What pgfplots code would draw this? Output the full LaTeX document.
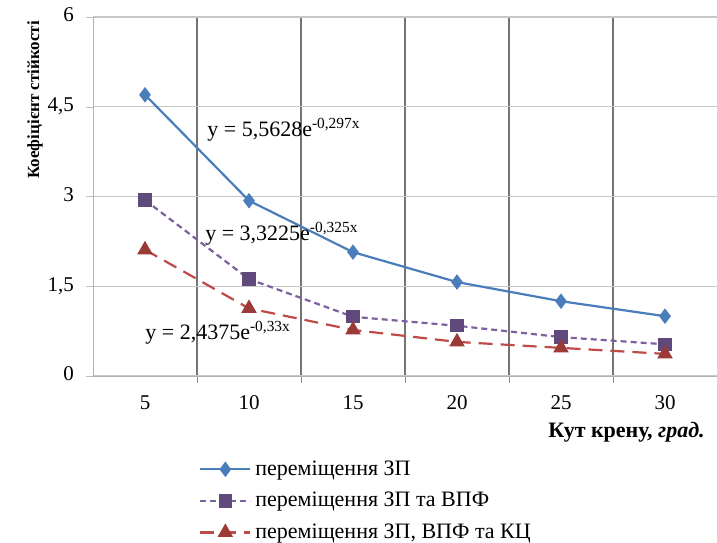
\documentclass[border=0pt]{standalone}
\usepackage{pgfplots}
\pgfplotsset{compat=1.18}
\usepackage{fontspec}
\setmainfont{Liberation Serif}
\definecolor{s1}{HTML}{4A7EBB}
\definecolor{s2}{HTML}{7D60A0}
\definecolor{s2m}{HTML}{604A7B}
\definecolor{s3}{HTML}{BE4B48}
\definecolor{s3m}{HTML}{9C3A37}
\begin{document}
\begin{tikzpicture}
\useasboundingbox (-46.5pt,-83pt) rectangle (312pt,188pt);
\begin{axis}[
  scale only axis, width=312pt, height=179.5pt,
  xmin=2.5, xmax=32.5, ymin=0, ymax=6,
  clip=false,
  axis lines=left,
  axis line style={draw=black!30, -},
  tick align=outside,
  major tick length=3.5pt,
  tick style={draw=black!45},
  xtick={7.5,12.5,17.5,22.5,27.5}, xticklabels={},
  extra x ticks={5,10,15,20,25,30},
  extra x tick labels={5,10,15,20,25,30},
  extra x tick style={grid=none, major tick length=0pt,
    xticklabel style={yshift=-5pt}},
  typeset ticklabels with strut,
  ytick={0,1.5,3,4.5,6},
  ytick style={draw=black!25},
  xmajorgrids, ymajorgrids,
  x grid style={draw=black!55, line width=0.6pt},
  y grid style={draw=black!22, line width=0.6pt},
  tick label style={font=\fontsize{10.5}{12}\selectfont},
  /pgf/number format/assume math mode=true,
  yticklabel style={xshift=-2.5pt, /pgf/number format/.cd, use comma, fixed, precision=1},
  legend style={at={(0.16,-0.212)}, anchor=north west, draw=none, fill=none,
    font=\fontsize{11}{12}\selectfont, row sep=3pt},
  legend cell align=left,
  legend image code/.code={\draw[mark repeat=2, mark phase=2]
    plot coordinates {(0pt,0pt) (12.5pt,0pt) (25pt,0pt)};},
]
\addplot[color=s1, line width=1.1pt, mark=diamond*, mark size=3pt,
  mark options={solid, fill=s1, draw=s1}]
  coordinates {(5,4.70) (10,2.93) (15,2.07) (20,1.57) (25,1.25) (30,1.00)};
\addlegendentry{переміщення ЗП}
\addplot[color=s2, line width=1.1pt, dash pattern=on 3pt off 2pt, mark=square*, mark size=2.8pt,
  mark options={solid, fill=s2m, draw=s2m}]
  coordinates {(5,2.94) (10,1.62) (15,0.99) (20,0.84) (25,0.65) (30,0.53)};
\addlegendentry{переміщення ЗП та ВПФ}
\addplot[color=s3, line width=1.1pt, dash pattern=on 7pt off 4pt, mark=triangle*, mark size=3.4pt,
  mark options={solid, fill=s3m, draw=s3m}]
  coordinates {(5,2.11) (10,1.13) (15,0.77) (20,0.57) (25,0.47) (30,0.37)};
\addlegendentry{переміщення ЗП, ВПФ та КЦ}
\node[anchor=west, font=\fontsize{11}{12}\selectfont, inner sep=0pt] at (axis cs:7.98,4.11) {y = 5,5628e\textsuperscript{-0,297x}};
\node[anchor=west, font=\fontsize{11}{12}\selectfont, inner sep=0pt] at (axis cs:7.88,2.37) {y = 3,3225e\textsuperscript{-0,325x}};
\node[anchor=west, font=\fontsize{11}{12}\selectfont, inner sep=0pt] at (axis cs:5.0,0.72) {y = 2,4375e\textsuperscript{-0,33x}};
\node[anchor=east, font=\bfseries\fontsize{11}{12}\selectfont, inner sep=0pt] at (rel axis cs:0.981,0) [yshift=-28pt] {Кут крену, \textit{град.}};
\node[xshift=-29pt, rotate=90, font=\bfseries\fontsize{8.5}{10}\selectfont, inner sep=0pt] at (rel axis cs:0,0.769) {Коефіцієнт стійкості};
\end{axis}
\end{tikzpicture}
\end{document}
